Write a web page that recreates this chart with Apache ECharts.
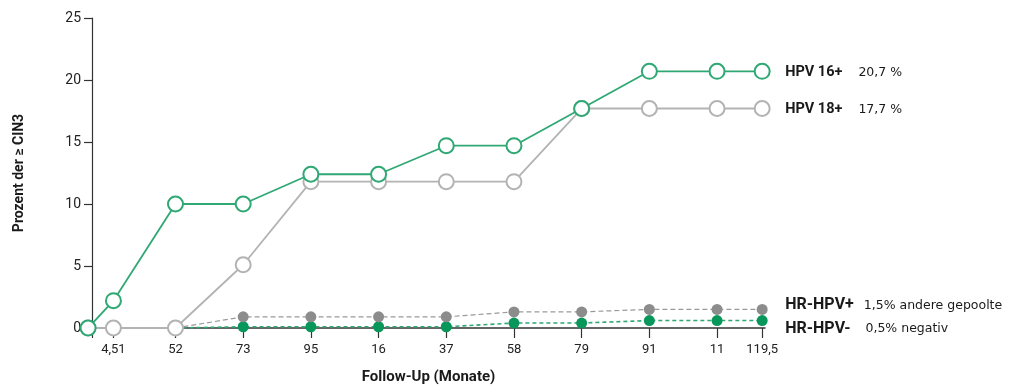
<!DOCTYPE html>
<html><head><meta charset="utf-8">
<script src="https://cdn.jsdelivr.net/npm/echarts@6/dist/echarts.min.js"></script>
<style>html,body{margin:0;padding:0;background:#fff}#c{width:1018px;height:387px}</style>
</head><body><div id="c"></div>
<script>
// Follow-up months (positions on the month scale) and printed tick labels
const months = [0, 4.5, 15.5, 27.5, 39.5, 51.5, 63.5, 75.5, 87.5, 99.5, 111.5, 119.5];
const tickLabels = ["0", "4,51", "52", "73", "95", "16", "37", "58", "79", "91", "11", "119,5"];
const yTicks = [0, 5, 10, 15, 20, 25];

const hpv16 = [0, 2.2, 10, 10, 12.4, 12.4, 14.7, 14.7, 17.7, 20.7, 20.7, 20.7];
const hpv18 = [0, 0, 0, 5.1, 11.8, 11.8, 11.8, 11.8, 17.7, 17.7, 17.7, 17.7];
// HR-HPV series start at the 3rd tick (index 2)
const hrPos = [null, null, 0, 0.9, 0.9, 0.9, 0.9, 1.3, 1.3, 1.5, 1.5, 1.5];
const hrNeg = [null, null, 0, 0.1, 0.1, 0.1, 0.1, 0.4, 0.4, 0.6, 0.6, 0.6];

const seriesNames = ["HPV 16+", "HPV 18+", "HR-HPV+", "HR-HPV-"];
const endTexts = ["20,7 %", "17,7 %", "1,5% andere gepoolte", "0,5% negativ"];

const X_MIN = 0.7;
const FONT = "'Roboto',sans-serif";
const FONT2 = "'DejaVu Sans',sans-serif";
const GREEN = '#2fa874', DKGREEN = '#07975a', GRAY = '#b3b3b3', DKGRAY = '#8c8c8c';

function pairs(vals, hideFirst) {
  const out = [];
  let first = true;
  vals.forEach((v, i) => {
    if (v === null) return;
    const item = { value: [months[i], v] };
    if (hideFirst && first) { item.symbol = 'none'; }
    first = false;
    out.push(item);
  });
  return out;
}

function endLabel(i, offY, boldSize, gap) {
  return {
    show: true, distance: 23, offset: [0, offY],
    formatter: '{b|' + seriesNames[i] + '}{n|' + endTexts[i] + '}',
    rich: {
      b: { fontFamily: FONT, fontWeight: 'bold', fontSize: boldSize, color: '#1a1a1a' },
      n: { fontFamily: FONT2, fontSize: 12.5, color: '#1a1a1a', padding: [0, 0, 0, gap] }
    }
  };
}

const chart = echarts.init(document.getElementById('c'), null, { renderer: 'canvas' });
chart.setOption({
  animation: false,
  grid: { left: 92, right: 253, top: 18, bottom: 59, containLabel: false, outerBoundsMode: 'none' },
  xAxis: {
    type: 'value', min: X_MIN, max: 120,
    name: 'Follow-Up (Monate)', nameLocation: 'middle', nameGap: 42,
    nameTextStyle: { fontFamily: FONT, fontWeight: 'bold', fontSize: 15, color: '#1a1a1a' },
    axisLine: { lineStyle: { color: '#333', width: 1.5 } },
    axisTick: { show: true, customValues: [X_MIN].concat(months.slice(1)), length: 10, lineStyle: { color: '#333', width: 1.2 } },
    axisLabel: {
      customValues: months.slice(1), margin: 15,
      fontFamily: FONT, fontSize: 13, color: '#222',
      formatter: v => { const i = months.indexOf(v); return i >= 0 ? tickLabels[i] : ''; }
    },
    splitLine: { show: false }
  },
  yAxis: {
    type: 'value', min: 0, max: 25,
    name: 'Prozent der ≥ CIN3', nameLocation: 'middle', nameGap: 66, nameRotate: 90,
    nameTextStyle: { fontFamily: FONT, fontWeight: 'bold', fontSize: 14, color: '#1a1a1a' },
    axisLine: { show: true, lineStyle: { color: '#333', width: 1.2 } },
    axisTick: { show: true, customValues: yTicks, length: 8, lineStyle: { color: '#333', width: 1.2 } },
    axisLabel: { customValues: yTicks, margin: 11, fontFamily: FONT, fontSize: 14, color: '#222' },
    splitLine: { show: false }
  },
  series: [
    {
      name: seriesNames[3], type: 'line', clip: false, z: 3,
      data: pairs(hrNeg, true), symbol: 'circle', symbolSize: 11,
      itemStyle: { color: DKGREEN },
      lineStyle: { color: GREEN, width: 1.6, type: [4, 3] },
      endLabel: endLabel(3, 8, 16, 15)
    },
    {
      name: seriesNames[2], type: 'line', clip: false, z: 3,
      data: pairs(hrPos, true), symbol: 'circle', symbolSize: 11,
      itemStyle: { color: DKGRAY },
      lineStyle: { color: '#9a9a9a', width: 1.2, type: [5, 3] },
      endLabel: endLabel(2, -4, 16, 10)
    },
    {
      name: seriesNames[1], type: 'line', clip: false, z: 4,
      data: pairs(hpv18, false), symbol: 'circle', symbolSize: 15,
      itemStyle: { color: '#fff', borderColor: GRAY, borderWidth: 2 },
      lineStyle: { color: GRAY, width: 1.8 },
      endLabel: endLabel(1, 1, 14.5, 16)
    },
    {
      name: seriesNames[0], type: 'line', clip: false, z: 5,
      data: pairs(hpv16, false), symbol: 'circle', symbolSize: 15,
      itemStyle: { color: '#fff', borderColor: GREEN, borderWidth: 2 },
      lineStyle: { color: GREEN, width: 1.8 },
      endLabel: endLabel(0, 1, 14.5, 16)
    }
  ]
});
</script></body></html>
